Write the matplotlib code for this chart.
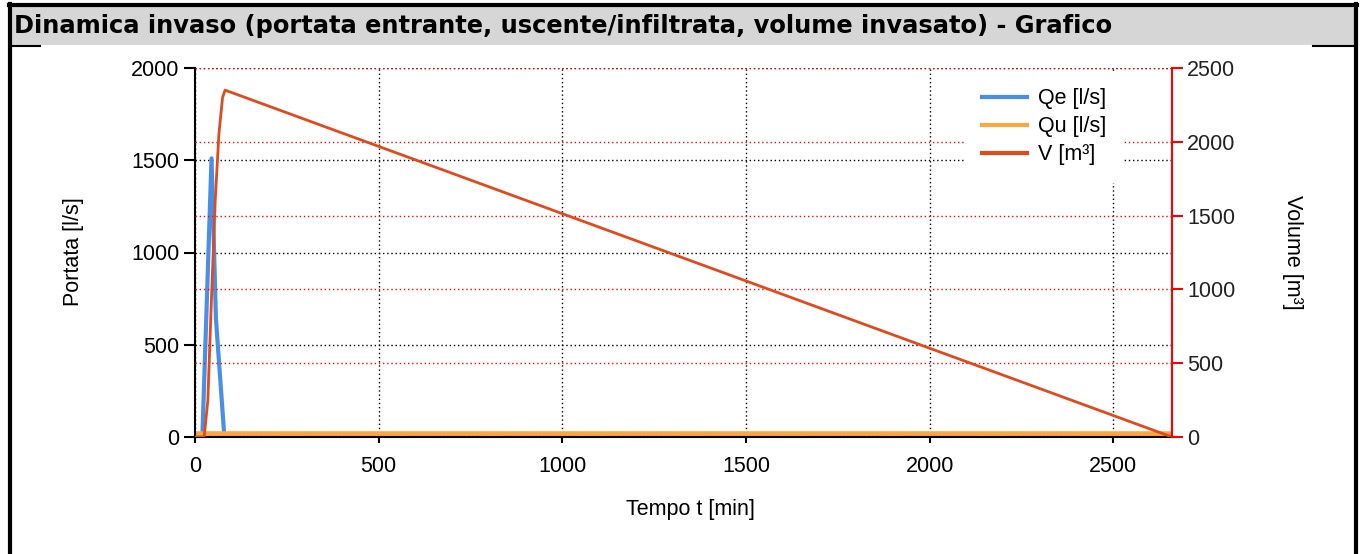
import matplotlib
matplotlib.use("Agg")
import matplotlib.pyplot as plt
from matplotlib.lines import Line2D
from matplotlib.patches import Rectangle

# data
t_qe = [0, 20, 45, 57, 80, 2660]
qe = [0, 0, 1510, 640, 0, 0]

t_qu = [0, 2660]
qu = [14, 14]

t_v = [0, 25, 35, 45, 55, 65, 75, 82, 2660]
v = [0, 0, 250, 950, 1600, 2050, 2300, 2350, 0]

x_ticks = [0, 500, 1000, 1500, 2000, 2500]
yl_ticks = [0, 500, 1000, 1500, 2000]
yr_ticks = [0, 500, 1000, 1500, 2000, 2500]

title = "Dinamica invaso (portata entrante, uscente/infiltrata, volume invasato) - Grafico"

W, H = 1362, 554
plt.rcParams['font.family'] = ['Liberation Sans', 'DejaVu Sans']
fig = plt.figure(figsize=(W / 100, H / 100), dpi=100)

def fx(px):
    return px / W

def fy(py):
    return 1 - py / H

# title bar and frame
fig.patches.append(Rectangle((fx(10), fy(45)), fx(1355) - fx(10), fy(5) - fy(45),
                             transform=fig.transFigure, facecolor='#d6d6d6', edgecolor='none'))
for xs, ys, lw in [([10, 10], [4, 554], 3), ([1356, 1356], [4, 554], 3), ([9, 1357], [5, 5], 3),
                   ([10, 40], [46, 46], 1.5), ([1313, 1355], [46, 46], 1.5)]:
    fig.add_artist(Line2D([fx(a) for a in xs], [fy(b) for b in ys], color='black', lw=lw))
fig.text(fx(14), fy(26), title, family='DejaVu Sans', weight='bold', fontsize=17.4,
         va='center', ha='left')

ax = fig.add_axes([fx(195), fy(437), fx(1172) - fx(195), fy(68) - fy(437)])
ax2 = ax.twinx()

blue = '#4a8fe6'
orange = '#f7a83e'
red = '#e04a1f'

l1, = ax.plot(t_qe, qe, color=blue, lw=3, label='Qe [l/s]')
l2, = ax.plot(t_qu, qu, color=orange, lw=4, label='Qu [l/s]')
l3, = ax2.plot(t_v, v, color=red, lw=2, label='V [m³]')

ax.set_xlim(0, 2660)
ax.set_ylim(0, 2000)
ax2.set_ylim(0, 2500)
ax.set_xticks(x_ticks)
ax.set_yticks(yl_ticks)
ax2.set_yticks(yr_ticks)

ax.grid(True, color='black', linestyle=(0, (1, 2)), lw=1)
ax2.grid(True, axis='y', color='red', linestyle=(0, (1, 2)), lw=1)
ax.set_axisbelow(True)

for s in ['top', 'right']:
    ax.spines[s].set_visible(False)
for s in ['top', 'left', 'bottom']:
    ax2.spines[s].set_visible(False)
ax.spines['left'].set_linewidth(1.5)
ax.spines['bottom'].set_linewidth(1.5)
ax2.spines['right'].set_color('red')
ax2.spines['right'].set_linewidth(1.5)

ax.tick_params(axis='y', length=8, width=1.5, labelsize=15.5, pad=3, colors='black')
ax.tick_params(axis='x', length=4, width=1.5, labelsize=15.5, pad=10)
ax2.tick_params(axis='y', length=8, width=1.5, color='red', labelsize=15.5, pad=3,
                labelcolor='#222222')

fig.text(fx(73), fy(252), 'Portata [l/s]', rotation=90, ha='center', va='center', fontsize=15.5)
fig.text(fx(1292), fy(252), 'Volume [m³]', rotation=270, ha='center', va='center', fontsize=15.5)
fig.text(fx(690), fy(510), 'Tempo t [min]', ha='center', va='center', fontsize=15.5)

leg = ax2.legend(handles=[l1, l2, l3], loc='upper left',
                 bbox_to_anchor=(fx(965), fy(71)), bbox_transform=fig.transFigure,
                 frameon=True, facecolor='white', edgecolor='none', framealpha=1,
                 fancybox=False, fontsize=15.5, handlelength=2.1, handletextpad=0.5,
                 labelspacing=0.33, borderpad=0.8, borderaxespad=0)
for h in leg.get_lines():
    h.set_linewidth(3)

fig.savefig('out.png', dpi=100)
